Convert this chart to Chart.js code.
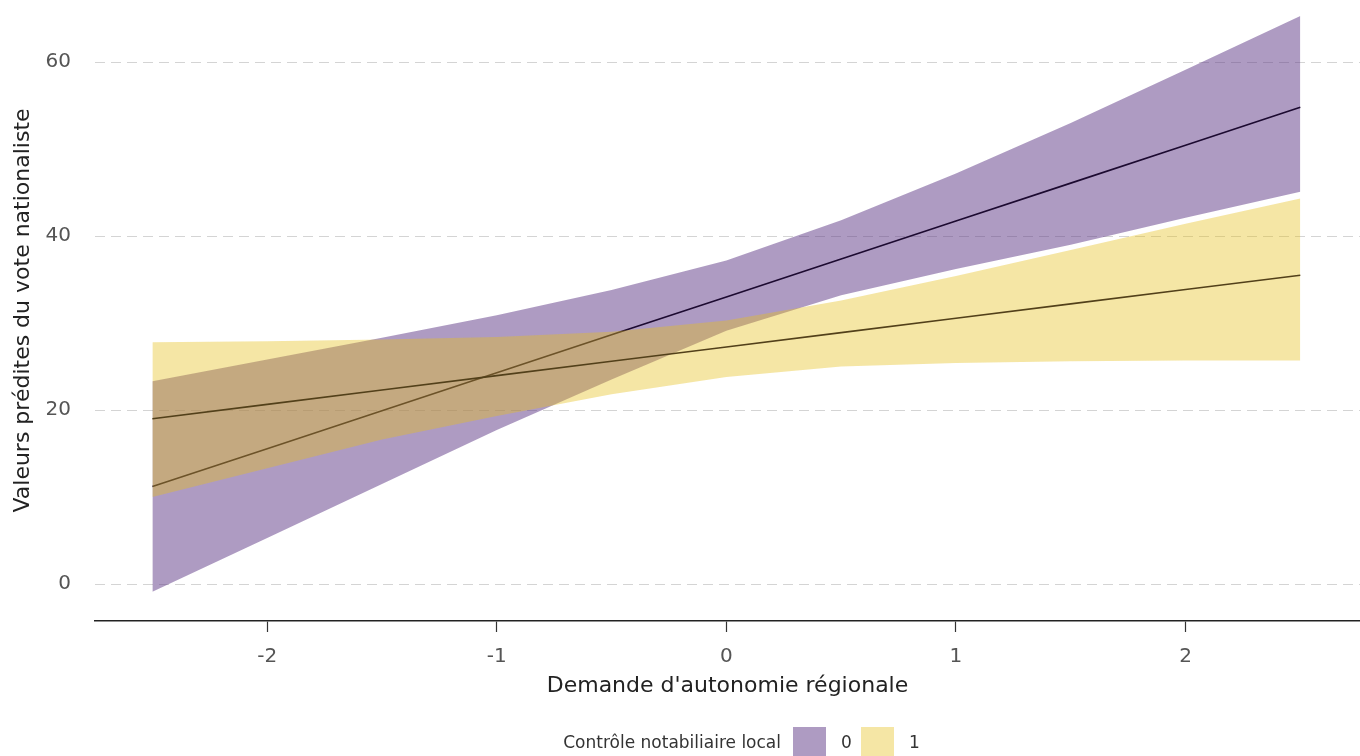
<!DOCTYPE html>
<html lang="fr">
<head>
    <meta charset="UTF-8">
    <title>Valeurs prédites du vote nationaliste</title>
    <style>
        body { margin: 0; background: #fff; }
        #wrap { width: 1360px; height: 756px; position: relative; }
    </style>
</head>
<body>
    <div id="wrap">
        <canvas id="predChart"></canvas>
    </div>
    <script src="https://cdn.jsdelivr.net/npm/chart.js"></script>
    <script>
        // values
        const xVals = [-2.5, -2, -1.5, -1, -0.5, 0, 0.5, 1, 1.5, 2, 2.5];
        const fit0 = [11.2, 15.56, 19.92, 24.28, 28.64, 33.0, 37.36, 41.72, 46.08, 50.44, 54.8];
        const low0 = [-0.9, 5.3, 11.5, 17.7, 23.5, 29.1, 33.2, 36.2, 39.0, 42.1, 45.1];
        const high0 = [23.3, 25.8, 28.3, 30.9, 33.8, 37.2, 41.8, 47.2, 53.0, 59.1, 65.3];
        const fit1 = [19.0, 20.65, 22.3, 23.95, 25.6, 27.25, 28.9, 30.55, 32.2, 33.85, 35.5];
        const low1 = [10.0, 13.3, 16.6, 19.3, 21.8, 23.8, 25.0, 25.4, 25.6, 25.7, 25.7];
        const high1 = [27.8, 27.9, 28.1, 28.4, 29.0, 30.3, 32.6, 35.4, 38.4, 41.4, 44.3];
        const xTicks = [-2, -1, 0, 1, 2];
        const yTicks = [0, 20, 40, 60];
        const groups = ['0', '1'];
        const legendTitle = 'Contrôle notabiliaire local';

        const fill0 = 'rgba(93, 55, 133, 0.5)';
        const fill1 = 'rgba(230, 193, 30, 0.4)';
        const fontFam = "'DejaVu Sans', sans-serif";

        const pts = arr => arr.map((v, i) => ({x: xVals[i], y: v}));
        const bound = (data, order) => ({
            data: pts(data), borderWidth: 0, borderColor: 'transparent',
            pointRadius: 0, fill: false, order: order
        });

        // custom legend at the bottom: title then swatches
        const bottomLegend = {
            id: 'bottomLegend',
            afterDraw(chart) {
                const ctx = chart.ctx;
                ctx.save();
                ctx.font = '17px ' + fontFam;
                ctx.fillStyle = '#333';
                ctx.textBaseline = 'middle';
                ctx.textAlign = 'left';
                const y = 744;
                const titleW = ctx.measureText(legendTitle).width;
                ctx.fillText(legendTitle, 781 - titleW, y);
                const cols = ['#ae9bc2', '#f5e6a5'];
                const boxX = [793, 861];
                groups.forEach((g, i) => {
                    ctx.fillStyle = cols[i];
                    ctx.fillRect(boxX[i], 727, 33, 35);
                    ctx.fillStyle = '#333';
                    ctx.fillText(g, boxX[i] + 48, y);
                });
                ctx.restore();
            }
        };

        new Chart(document.getElementById('predChart'), {
            type: 'line',
            data: {
                datasets: [
                    bound(low0, 6),
                    Object.assign(bound(high0, 5), {fill: '-1', backgroundColor: fill0}),
                    {data: pts(fit0), borderColor: '#1c0a30', borderWidth: 1.6, pointRadius: 0, fill: false, order: 4},
                    bound(low1, 3),
                    Object.assign(bound(high1, 2), {fill: '-1', backgroundColor: fill1}),
                    {data: pts(fit1), borderColor: '#52401a', borderWidth: 1.6, pointRadius: 0, fill: false, order: 1}
                ]
            },
            options: {
                responsive: true,
                maintainAspectRatio: false,
                animation: false,
                layout: {padding: 0},
                plugins: {legend: {display: false}, tooltip: {enabled: false}},
                scales: {
                    x: {
                        type: 'linear',
                        min: -2.75,
                        max: 2.76,
                        afterBuildTicks: axis => { axis.ticks = xTicks.map(v => ({value: v})); },
                        afterFit: axis => { axis.height = 135; axis.paddingLeft = 0; axis.paddingRight = 0; },
                        grid: {drawOnChartArea: false, drawTicks: true, tickLength: 11, tickColor: '#333', tickWidth: 1.2},
                        border: {display: true, color: '#222', width: 1.6},
                        ticks: {color: '#555', font: {family: fontFam, size: 20}, padding: 13},
                        title: {display: true, text: "Demande d'autonomie régionale", color: '#222',
                                font: {family: fontFam, size: 22}, padding: {top: 0, bottom: 57}}
                    },
                    y: {
                        min: -4.25,
                        max: 67.13,
                        afterBuildTicks: axis => { axis.ticks = yTicks.map(v => ({value: v})); },
                        afterFit: axis => { axis.width = 95; axis.paddingTop = 0; axis.paddingBottom = 0; },
                        grid: {color: '#d4d4d4', lineWidth: 1, drawTicks: false},
                        border: {display: false, dash: [10, 6]},
                        ticks: {color: '#555', font: {family: fontFam, size: 20}, padding: 24},
                        title: {display: true, text: 'Valeurs prédites du vote nationaliste', color: '#222',
                                font: {family: fontFam, size: 22}, padding: {top: 10, bottom: 0}}
                    }
                }
            },
            plugins: [bottomLegend]
        });
    </script>
</body>
</html>
